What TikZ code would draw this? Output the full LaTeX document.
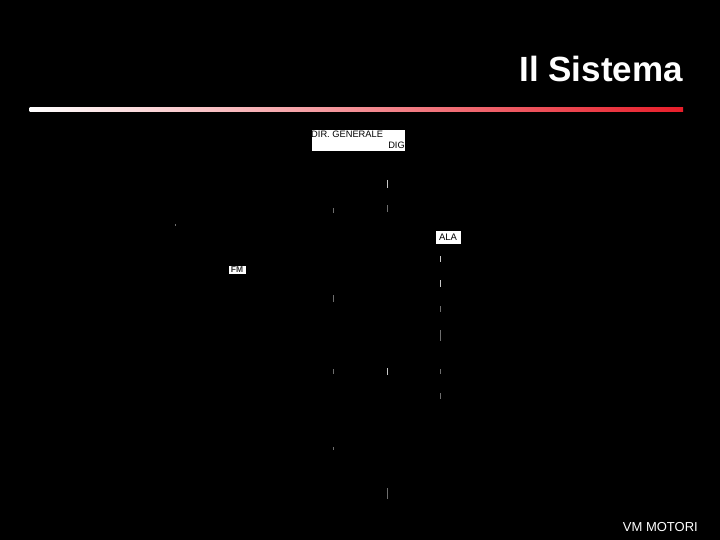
\documentclass[tikz,border=0pt]{standalone}
\usepackage{fontspec}
\setmainfont{Liberation Sans}
\definecolor{barred}{RGB}{232,30,42}
\definecolor{tickgray}{RGB}{200,200,200}
\definecolor{faintgray}{RGB}{110,110,110}
\begin{document}
\begin{tikzpicture}[x=1pt,y=-1pt,
  orgbox/.style={draw=black,fill=white,inner sep=0pt,line width=0.5pt},
  tickmark/.style={draw=tickgray,line width=0.8pt},
  faintmark/.style={draw=faintgray,line width=0.8pt}]
\fill[black] (0,0) rectangle (720,540);
\useasboundingbox (0,0) rectangle (720,540);
% title
\node[anchor=base east,text=white,font=\fontsize{35}{38}\selectfont\bfseries,inner sep=0pt] (title) at (683,81.5) {Il Sistema};
% gradient bar
\shade[left color=white,right color=barred] (29.5,107.3) rectangle (683,111.7);
% boxes
\node[orgbox,minimum width=94pt,minimum height=22pt] (dg) at (358,140) {};
\node[anchor=north west,inner sep=0pt,font=\fontsize{9.3}{10}\selectfont] (dgt) at (311,130.8) {DIR. GENERALE};
\node[anchor=base east,inner sep=0pt,font=\fontsize{9.3}{10}\selectfont] (dgb) at (405,148.3) {DIG};
\node[orgbox,minimum width=25.5pt,minimum height=14pt,font=\fontsize{9.5}{10}\selectfont] (ala) at (448,237) {ALA};
\node[orgbox,minimum width=18pt,minimum height=9pt,font=\fontsize{8.5}{9}\selectfont\bfseries,text=black!80] (fm) at (237,269.5) {FM};
% tick marks
\draw[tickmark] (387.7,180) -- (387.7,188);
\draw[faintmark] (387.7,205) -- (387.7,212);
\draw[faintmark] (333.5,208) -- (333.5,213);
\draw[faintmark] (175,224) -- (175,226.5);
\draw[tickmark] (440.7,256) -- (440.7,262);
\draw[tickmark] (440.7,280) -- (440.7,287);
\draw[faintmark] (440.7,306) -- (440.7,312);
\draw[faintmark] (440.7,330) -- (440.7,341);
\draw[faintmark] (333.5,295) -- (333.5,302);
\draw[faintmark] (333.5,369) -- (333.5,374);
\draw[tickmark] (387.7,368) -- (387.7,375);
\draw[faintmark] (440.7,369) -- (440.7,374);
\draw[faintmark] (440.7,393) -- (440.7,399);
\draw[faintmark] (333.5,447) -- (333.5,450);
\draw[faintmark] (387.7,488) -- (387.7,499);
% footer
\node[anchor=base east,text=white,font=\fontsize{13}{14}\selectfont,inner sep=0pt] (foot) at (698,531.5) {VM MOTORI};
\end{tikzpicture}
\end{document}
